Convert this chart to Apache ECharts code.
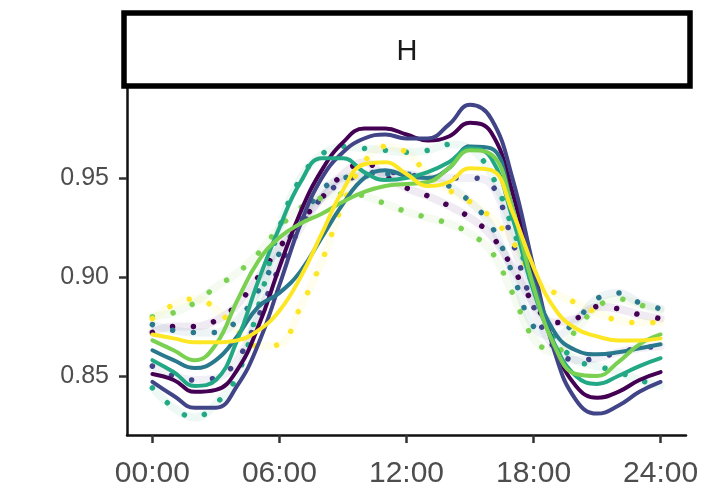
<!DOCTYPE html>
<html>
<head>
<meta charset="utf-8">
<script src="https://cdn.jsdelivr.net/npm/echarts@6/dist/echarts.min.js"></script>
<style>
html,body{margin:0;padding:0;background:#fff;}
#chart{width:710px;height:496px;}
</style>
</head>
<body>
<div id="chart"></div>
<script>
const panelTitle = 'H';
const hours = [0,1,2,3,4,5,6,7,8,9,10,11,12,13,14,15,16,17,18,19,20,21,22,23,24];
const xTickValues = [0, 6, 12, 18, 24];
const xTickLabels = ['00:00', '06:00', '12:00', '18:00', '24:00'];
const yTickValues = [0.85, 0.90, 0.95];
const groupNames = ['P', 'I', 'S', 'T', 'G', 'Y'];
const groupColors = ['#440154', '#414487', '#2A788E', '#22A884', '#7AD151', '#FDE725'];

// observed (dotted) series
const obsP = [0.872,0.875,0.875,0.878,0.886,0.900,0.915,0.928,0.940,0.952,0.958,0.951,0.945,0.941,0.936,0.930,0.921,0.905,0.887,0.877,0.879,0.885,0.884,0.881,0.879];
const obsI = [0.855,0.850,0.848,0.849,0.858,0.880,0.905,0.925,0.940,0.948,0.952,0.953,0.952,0.950,0.950,0.950,0.947,0.918,0.885,0.864,0.858,0.859,0.862,0.864,0.865];
const obsS = [0.876,0.873,0.872,0.872,0.878,0.893,0.912,0.928,0.944,0.950,0.951,0.952,0.952,0.950,0.946,0.938,0.926,0.902,0.875,0.870,0.878,0.889,0.892,0.887,0.884];
const obsT = [0.844,0.834,0.829,0.836,0.850,0.885,0.925,0.950,0.962,0.966,0.965,0.964,0.963,0.964,0.967,0.965,0.952,0.925,0.895,0.870,0.858,0.855,0.852,0.848,0.845];
const obsG = [0.880,0.882,0.887,0.895,0.902,0.912,0.925,0.935,0.940,0.942,0.941,0.937,0.933,0.930,0.927,0.922,0.913,0.892,0.869,0.862,0.873,0.885,0.889,0.886,0.883];
const obsY = [0.879,0.886,0.889,0.884,0.873,0.865,0.866,0.885,0.908,0.937,0.958,0.966,0.963,0.952,0.944,0.938,0.930,0.918,0.900,0.892,0.887,0.882,0.878,0.877,0.877];

// fitted (smooth) series
const fitP = [0.851,0.848,0.842,0.843,0.853,0.875,0.905,0.933,0.954,0.968,0.975,0.975,0.972,0.969,0.971,0.978,0.973,0.943,0.900,0.865,0.845,0.839,0.842,0.848,0.852];
const fitI = [0.847,0.840,0.834,0.834,0.845,0.866,0.896,0.927,0.950,0.963,0.970,0.972,0.970,0.970,0.977,0.987,0.980,0.950,0.905,0.862,0.838,0.831,0.835,0.842,0.847];
const fitS = [0.863,0.858,0.854,0.858,0.870,0.885,0.892,0.903,0.920,0.937,0.950,0.954,0.951,0.950,0.955,0.966,0.965,0.935,0.897,0.872,0.863,0.861,0.862,0.864,0.866];
const fitT = [0.858,0.852,0.845,0.848,0.868,0.898,0.925,0.948,0.960,0.960,0.953,0.949,0.950,0.953,0.958,0.965,0.960,0.930,0.893,0.866,0.850,0.846,0.850,0.855,0.859];
const fitG = [0.868,0.863,0.858,0.866,0.888,0.908,0.920,0.927,0.932,0.938,0.943,0.946,0.947,0.948,0.955,0.964,0.962,0.935,0.895,0.865,0.851,0.850,0.857,0.866,0.871];
const fitY = [0.871,0.869,0.867,0.867,0.868,0.873,0.883,0.900,0.922,0.944,0.957,0.958,0.952,0.946,0.948,0.955,0.954,0.933,0.905,0.884,0.874,0.870,0.868,0.868,0.869];

const obsAll = [obsP, obsI, obsS, obsT, obsG, obsY];
const fitAll = [fitP, fitI, fitS, fitT, fitG, fitY];

function pairs(vals){ return hours.map((h, i) => [h, vals[i]]); }

const series = [];
obsAll.forEach((vals, k) => {
  series.push({
    type: 'line', name: groupNames[k] + '_band', data: pairs(vals), smooth: 0.4,
    symbol: 'none', silent: true, z: 1,
    lineStyle: { color: groupColors[k], width: 8, opacity: 0.08, cap: 'round', join: 'round' }
  });
});
obsAll.forEach((vals, k) => {
  series.push({
    type: 'line', name: groupNames[k] + '_obs', data: pairs(vals), smooth: 0.4,
    symbol: 'none', silent: true, z: 2,
    lineStyle: { color: groupColors[k], width: 5.5, type: [0.01, 21], cap: 'round' }
  });
});
fitAll.forEach((vals, k) => {
  series.push({
    type: 'line', name: groupNames[k] + '_fit', data: pairs(vals), smooth: 0.45,
    symbol: 'none', silent: true, z: 3,
    lineStyle: { color: groupColors[k], width: 4, cap: 'round', join: 'round' }
  });
});

const chart = echarts.init(document.getElementById('chart'), null, { renderer: 'canvas' });
chart.setOption({
  animation: false,
  backgroundColor: '#ffffff',
  grid: { left: 127, right: 24, top: 88, bottom: 61, containLabel: false },
  graphic: [
    { type: 'rect', shape: { x: 124, y: 13, width: 566, height: 73 },
      style: { fill: '#ffffff', stroke: '#000000', lineWidth: 5.5 }, z: 10 },
    { type: 'text', x: 407, y: 52,
      style: { text: panelTitle, font: '29px "Liberation Sans", Arial, sans-serif', fill: '#1a1a1a',
               align: 'center', verticalAlign: 'middle' }, z: 11 }
  ],
  xAxis: {
    type: 'value', min: -1.2, max: 25.2,
    splitLine: { show: false },
    axisLine: { show: true, onZero: false, lineStyle: { color: '#111', width: 2.5 } },
    axisTick: { show: true, customValues: xTickValues, length: 8, lineStyle: { color: '#333', width: 2.5 } },
    axisLabel: {
      customValues: xTickValues, margin: 24, color: '#4d4d4d', fontSize: 30,
      fontFamily: '"Liberation Sans", Arial, sans-serif',
      formatter: v => xTickLabels[xTickValues.indexOf(v)] ?? ''
    }
  },
  yAxis: {
    type: 'value', min: 0.8202, max: 0.9955,
    splitLine: { show: false },
    axisLine: { show: true, onZero: false, lineStyle: { color: '#111', width: 2.5 } },
    axisTick: { show: true, customValues: yTickValues, length: 8, lineStyle: { color: '#333', width: 2.5 } },
    axisLabel: {
      customValues: yTickValues, margin: 18, color: '#4d4d4d', fontSize: 25,
      fontFamily: '"Liberation Sans", Arial, sans-serif',
      formatter: v => v.toFixed(2)
    }
  },
  series: series
});
</script>
</body>
</html>
